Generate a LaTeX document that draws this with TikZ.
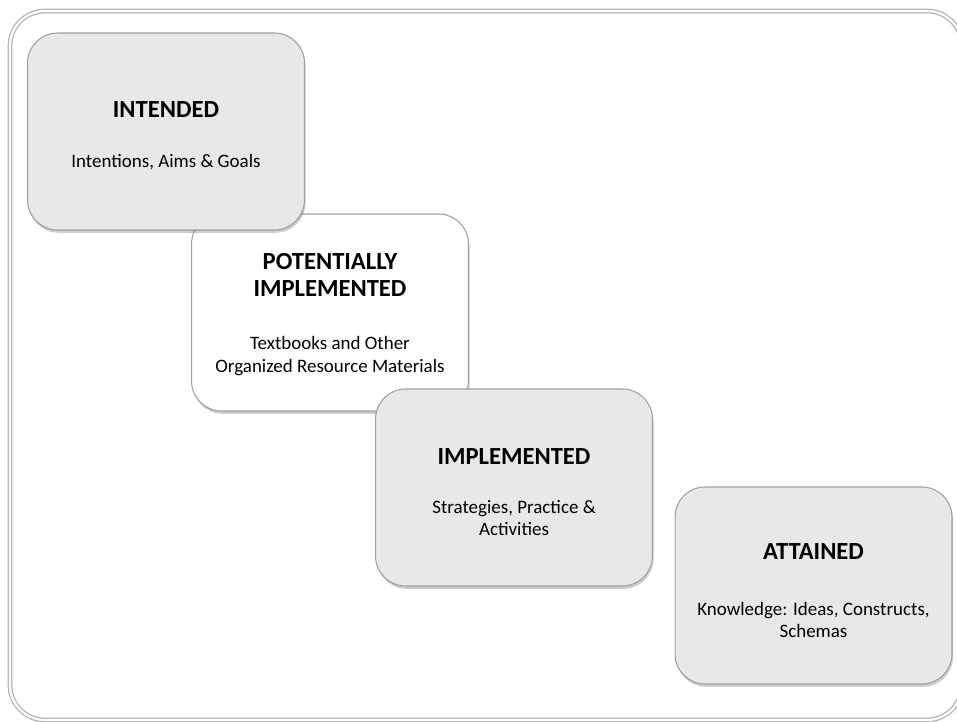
\documentclass[tikz,border=0pt]{standalone}
\usepackage{fontspec}
\setmainfont{Carlito}
\usetikzlibrary{shadows}
\definecolor{boxgray}{HTML}{E8E8E8}
\definecolor{framegray}{HTML}{AFAFAF}
\tikzset{
  stage/.style={draw=gray!75,line width=0.6pt,rounded corners=0.6cm,
    minimum width=5.54cm,minimum height=3.94cm,fill=boxgray,
    drop shadow={shadow xshift=0.6pt,shadow yshift=-1.6pt,opacity=0.4}},
  ttl/.style={align=center,inner sep=0pt,font=\fontsize{14}{15.5}\selectfont\bfseries},
  txt/.style={align=center,inner sep=0pt,font=\fontsize{10.8}{12.6}\selectfont}
}

\begin{document}
\begin{tikzpicture}[x=0.02cm,y=-0.02cm]
\useasboundingbox (0,0) rectangle (957,722);
\draw[framegray,line width=0.7pt,double=white,double distance=1.3pt,
rounded corners=0.7cm] (10,11) rectangle (962,720);

\node[stage,fill=white] (potential) at (330,312.5) {};
\node[stage] (intended) at (166,131.5) {};
\node[stage] (implemented) at (514,487.5) {};
\node[stage] (attained) at (813.5,585.5) {};

\node[ttl] (intendedT) at (166,110) {INTENDED};
\node[txt] (intendedB) at (166,162) {Intentions, Aims \& Goals};
\node[ttl] (potentialT) at (330,275) {POTENTIALLY\\IMPLEMENTED};
\node[txt] (potentialB) at (330,356) {Textbooks and Other\\Organized Resource Materials};
\node[ttl] (implementedT) at (514,457) {IMPLEMENTED};
\node[txt] (implementedB) at (514,518) {Strategies, Practice \&\\Activities};
\node[ttl] (attainedT) at (813.5,552) {ATTAINED};
\node[txt] (attainedB) at (813.5,620) {Knowledge: Ideas, Constructs,\\Schemas};
\end{tikzpicture}
\end{document}
